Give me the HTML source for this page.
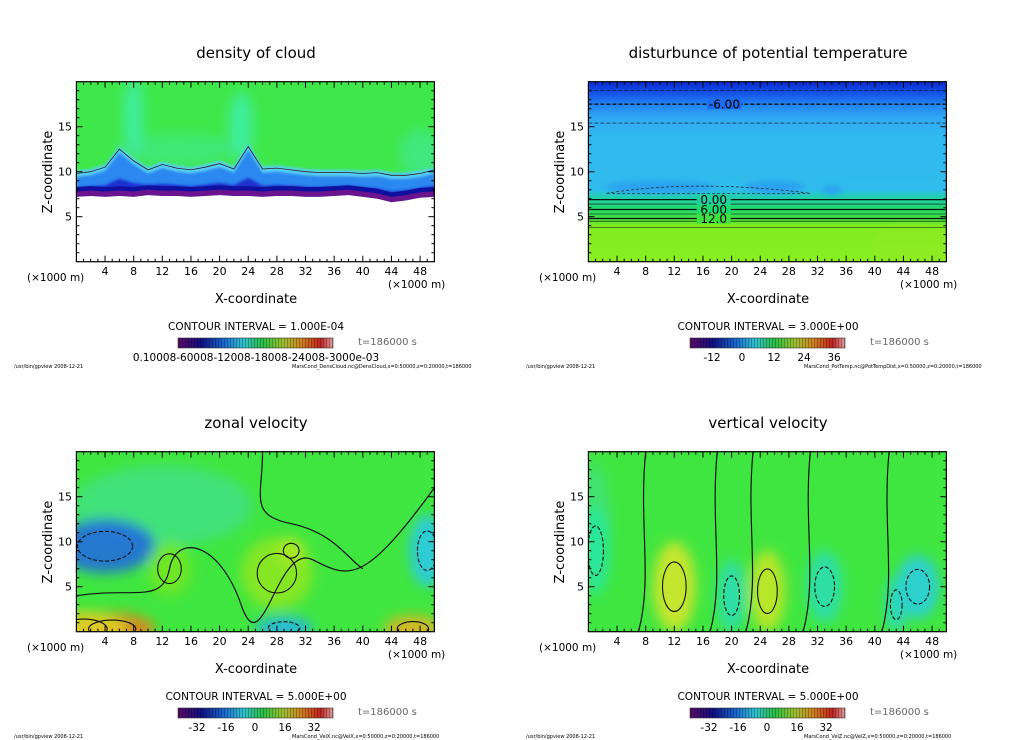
<!DOCTYPE html>
<html><head><meta charset="utf-8">
<style>
html,body{margin:0;padding:0;background:#fff;width:1024px;height:740px;overflow:hidden}
svg{display:block;font-family:"DejaVu Sans","Liberation Sans",sans-serif}
</style></head>
<body>
<svg id="fig" width="1024" height="740" viewBox="0 0 1024 740" xmlns="http://www.w3.org/2000/svg">
<defs>
<linearGradient id="cbar" x1="0" x2="1" y1="0" y2="0">
<stop offset="0" stop-color="#5a0a6a"/><stop offset="0.15" stop-color="#101080"/><stop offset="0.3" stop-color="#1a6ad0"/>
<stop offset="0.42" stop-color="#30c0d0"/><stop offset="0.55" stop-color="#2ac040"/><stop offset="0.68" stop-color="#a0c030"/>
<stop offset="0.8" stop-color="#d08020"/><stop offset="0.92" stop-color="#c02020"/><stop offset="1" stop-color="#e0a0a0"/>
</linearGradient>
<pattern id="stripes" width="3" height="10" patternUnits="userSpaceOnUse"><rect x="2" width="1" height="10" fill="rgba(0,0,0,0.25)"/></pattern>
<filter id="blur6"><feGaussianBlur stdDeviation="6"/></filter>
<filter id="blur3"><feGaussianBlur stdDeviation="3"/></filter>
<filter id="blur1"><feGaussianBlur stdDeviation="1.2"/></filter>
<linearGradient id="g-pt" x1="0" x2="0" y1="0" y2="1">
<stop offset="0" stop-color="#0a2ad0"/><stop offset="0.06" stop-color="#1450e8"/><stop offset="0.12" stop-color="#1e80f0"/>
<stop offset="0.2" stop-color="#30a8f4"/><stop offset="0.3" stop-color="#30b8f0"/><stop offset="0.6" stop-color="#30bcec"/>
<stop offset="0.64" stop-color="#20d0b0"/><stop offset="0.7" stop-color="#20d870"/><stop offset="0.76" stop-color="#40e040"/>
<stop offset="0.8" stop-color="#80ec20"/><stop offset="1" stop-color="#88ee20"/>
</linearGradient>
</defs>
</svg>
<script>
// ---- data ----
const xTicks = [4,8,12,16,20,24,28,32,36,40,44,48];
const zTicks = [5,10,15];
const titles = ["density of cloud","disturbunce of potential temperature","zonal velocity","vertical velocity"];
const intervals = ["1.000E-04","3.000E+00","5.000E+00","5.000E+00"];
const footers = ["MarsCond_DensCloud.nc@DensCloud,x=0:50000,z=0:20000,t=186000","MarsCond_PotTemp.nc@PotTempDist,x=0:50000,z=0:20000,t=186000","MarsCond_VelX.nc@VelX,x=0:50000,z=0:20000,t=186000","MarsCond_VelZ.nc@VelZ,x=0:50000,z=0:20000,t=186000"];
const cbarLabels = [["0.1000E-03 ... 0.3000E-03"],["-12","0","12","24","36"],["-32","-16","0","16","32"],["-32","-16","0","16","32"]];
// cloud panel profiles (z in km at x = 0,2,...,50)
const cloudX    = [0,2,4,6,8,10,12,14,16,18,20,22,24,26,28,30,32,34,36,38,40,42,44,46,48,50];
const cloudBase = [7.2,7.3,7.2,7.3,7.2,7.4,7.3,7.3,7.2,7.3,7.4,7.3,7.3,7.2,7.3,7.3,7.2,7.2,7.3,7.4,7.2,7.0,6.6,6.8,7.1,7.2];
const cloudTop  = [9.8,10.0,10.5,12.5,11.2,10.2,10.8,10.4,10.2,10.5,10.9,10.3,12.8,10.3,10.4,10.2,10.0,9.9,9.9,9.9,9.8,9.9,9.6,9.6,9.8,10.2];
// potential temperature contour levels (z km)
const ptLevels = [19.0,17.5,15.4,6.9,6.4,5.8,5.3,4.8,4.5,3.8];
const ptLabels = ["-6.00","0.00","6.00","12.0"];
// zonal velocity anomalies: x, z (km), rx, rz (km), value (m/s)
const uBlobX = [4,5,1,47,29,28,13,30,49];
const uBlobZ = [9.5,0.3,0.3,0.3,0.4,6.5,7,9,9];
const uBlobRX= [7,6,6,4,4,5,3,2,2.5];
const uBlobRZ= [3,1.8,2,1.5,1.3,4,3,1.5,4];
const uBlobV = [-20,24,14,18,-12,7,5,9,-10];
// vertical velocity anomalies
const wBlobX = [12,25,20,33,46,43,1];
const wBlobZ = [5,4.5,4,5,5,3,9];
const wBlobRX= [3,2.5,2,2.5,3,1.5,2];
const wBlobRZ= [5,4.5,4,4,3.5,3,5];
const wBlobV = [12,11,-5,-5,-9,-7,-3];

// ---- helpers ----
const NS="http://www.w3.org/2000/svg";
const svg=document.getElementById('fig');
function el(tag,attrs,parent){const e=document.createElementNS(NS,tag);for(const k in attrs)e.setAttribute(k,attrs[k]);(parent||svg).appendChild(e);return e;}
function xS(km){return 76.4+km*7.16;}
function zS(z){return 261.7-z*9.0;}
function valColor(v){
  const stops=[[-32,[60,20,140]],[-20,[30,100,230]],[-10,[40,200,240]],[-3,[40,230,160]],[0,[60,228,50]],[6,[130,232,30]],[12,[220,230,40]],[20,[240,160,30]],[30,[230,70,20]]];
  if(v<=stops[0][0])return 'rgb('+stops[0][1]+')';
  for(let i=1;i<stops.length;i++){if(v<=stops[i][0]){const a=stops[i-1],b=stops[i],t=(v-a[0])/(b[0]-a[0]);return 'rgb('+a[1].map((c,j)=>Math.round(c+(b[1][j]-c)*t)).join(',')+')';}}
  return 'rgb('+stops[stops.length-1][1]+')';
}

const offs=[[0,0],[512,0],[0,370],[512,370]];
offs.forEach((o,pi)=>{
  const g=el('g',{transform:`translate(${o[0]},${o[1]})`});
  
  
  const t=el('text',{x:256,y:58,'text-anchor':'middle','font-size':15,fill:'#000'},g);t.textContent=titles[pi];
  
  const clipId='clip'+pi;
  const cp=el('clipPath',{id:clipId},g);el('rect',{x:xS(0),y:zS(20),width:xS(50)-xS(0),height:zS(0)-zS(20)},cp);
  const plot=el('g',{'clip-path':`url(#${clipId})`},g);
  
  const W=xS(50)-xS(0),H=zS(0)-zS(20);
  if(pi===0){
    el('rect',{x:xS(0),y:zS(20),width:W,height:H,fill:'#3ee84a'},plot);
    const bl=el('g',{filter:'url(#blur6)'},plot);
    el('ellipse',{cx:xS(8),cy:zS(16),rx:10,ry:40,fill:'#40f0c0',opacity:0.7},bl);
    el('ellipse',{cx:xS(23),cy:zS(15),rx:12,ry:35,fill:'#40f0c0',opacity:0.7},bl);
    el('ellipse',{cx:xS(48),cy:zS(12),rx:20,ry:25,fill:'#40e8a0',opacity:0.6},bl);
    el('ellipse',{cx:xS(14),cy:zS(12.5),rx:60,ry:15,fill:'#40e8a0',opacity:0.5},bl);
    const band=(topF,botF,fill,f)=>{let d='M';cloudX.forEach((x,i)=>{d+=(i?' L':'')+xS(x)+' '+zS(topF(i));});for(let i=cloudX.length-1;i>=0;i--)d+=' L'+xS(cloudX[i])+' '+zS(botF(i));el('path',{d:d+' Z',fill,filter:f||''},plot);};
    band(i=>cloudTop[i]+0.3,i=>cloudBase[i],'#58d0f4','url(#blur1)');
    band(i=>cloudTop[i]-0.4,i=>cloudBase[i],'#2c88f0','url(#blur1)');
    band(i=>(cloudTop[i]+cloudBase[i]*2)/3+0.2,i=>cloudBase[i],'#1a30d0','url(#blur1)');
    band(i=>cloudBase[i]+1.1,i=>cloudBase[i],'#1010a0');
    band(i=>cloudBase[i]+0.6,i=>cloudBase[i],'#6a1490');
    band(i=>cloudBase[i],i=>-1,'#ffffff');
    let d='M';cloudX.forEach((x,i)=>{d+=(i?' L':'')+xS(x)+' '+zS(cloudTop[i]);});
    el('path',{d,fill:'none',stroke:'#222','stroke-width':0.8},plot);
  } else if(pi===1){
    el('rect',{x:xS(0),y:zS(20),width:W,height:H,fill:'url(#g-pt)'},plot);
    const bl=el('g',{filter:'url(#blur3)'},plot);
    el('ellipse',{cx:xS(10),cy:zS(8.3),rx:55,ry:6,fill:'#2aa0f0'},bl);
    el('ellipse',{cx:xS(26),cy:zS(8.3),rx:30,ry:6,fill:'#2aa0f0'},bl);
    el('ellipse',{cx:xS(34),cy:zS(8.0),rx:10,ry:4,fill:'#2aa0f0'},bl);
    el('ellipse',{cx:xS(45),cy:zS(2),rx:40,ry:20,fill:'#90ec20',opacity:0.5},bl);
    ptLevels.forEach((z,i)=>{
      const dashed=i<3;const bold=(i===1||i===3||i===5||i===7);
      const l=el('line',{x1:xS(0),x2:xS(50),y1:zS(z),y2:zS(z),stroke:'#111','stroke-width':bold?1.3:0.6,'stroke-dasharray':dashed?'4,2':''},plot);
      
    });
    el('path',{d:`M${xS(2.5)} ${zS(7.6)} Q${xS(15)} ${zS(9.2)} ${xS(31)} ${zS(7.6)} Z`,fill:'none',stroke:'#222','stroke-width':0.7,'stroke-dasharray':'3,2'},plot);
    const lbl=[[17.5,ptLabels[0],'#1e6aec'],[6.9,ptLabels[1],'#20d0a0'],[5.8,ptLabels[2],'#20d870'],[4.8,ptLabels[3],'#40e040']];
    lbl.forEach((p,i)=>{const x=i===0?xS(19):xS(17.5);el('rect',{x:x-17,y:zS(p[0])-5,width:34,height:10,fill:p[2]},plot);
      const tt=el('text',{x,y:zS(p[0])+4.5,'text-anchor':'middle','font-size':12,fill:'#000'},plot);tt.textContent=p[1];});
  } else {
    const bx=pi===2?uBlobX:wBlobX,bz=pi===2?uBlobZ:wBlobZ,brx=pi===2?uBlobRX:wBlobRX,brz=pi===2?uBlobRZ:wBlobRZ,bv=pi===2?uBlobV:wBlobV;
    el('rect',{x:xS(0),y:zS(20),width:W,height:H,fill:'#40e640'},plot);
    const bl=el('g',{filter:'url(#blur6)'},plot);
    if(pi===2){el('ellipse',{cx:xS(12),cy:zS(14),rx:90,ry:40,fill:'#40e0a0',opacity:0.6},bl);}
    else {el('ellipse',{cx:xS(1),cy:zS(12),rx:15,ry:60,fill:'#40e0a0',opacity:0.5},bl);}
    bx.forEach((x,i)=>{
      const c=el('ellipse',{cx:xS(x),cy:zS(bz[i]),rx:brx[i]*7.16,ry:brz[i]*9,fill:valColor(bv[i]),opacity:0.85},bl);
      
      el('ellipse',{cx:xS(x),cy:zS(bz[i]),rx:brx[i]*7.16*0.55,ry:brz[i]*9*0.55,fill:'none',stroke:'#111','stroke-width':1.1,'stroke-dasharray':bv[i]<0?'4,2':''},plot);
    });
    if(pi===2){
      el('path',{d:`M${xS(0)} ${zS(4)} C${xS(8)} ${zS(5)} ${xS(12)} ${zS(3)} ${xS(13)} ${zS(7)} S${xS(20)} ${zS(10)} ${xS(23)} ${zS(3)} S${xS(28)} ${zS(10)} ${xS(33)} ${zS(8)} S${xS(40)} ${zS(5)} ${xS(50)} ${zS(16)}`,fill:'none',stroke:'#111','stroke-width':1.2},plot);
      el('path',{d:`M${xS(26)} ${zS(20)} C${xS(26)} ${zS(15)} ${xS(24)} ${zS(13)} ${xS(30)} ${zS(12)} S${xS(38)} ${zS(8)} ${xS(40)} ${zS(7)}`,fill:'none',stroke:'#111','stroke-width':1.2},plot);
    } else {
      [7,17,22,30,41].forEach(x=>{el('path',{d:`M${xS(x+1)} ${zS(20)} C${xS(x)} ${zS(12)} ${xS(x+2)} ${zS(6)} ${xS(x)} ${zS(0)}`,fill:'none',stroke:'#111','stroke-width':1.2},plot);});
    }
  }
  const fr=el('rect',{x:xS(0),y:zS(20),width:W,height:H,fill:'none',stroke:'#000','stroke-width':1.2},g);
  
  for(let k=1;k<50;k++){const len=k%4===0?6:3;
    el('line',{x1:xS(k),x2:xS(k),y1:zS(0),y2:zS(0)-len,stroke:'#000','stroke-width':1},g);
    el('line',{x1:xS(k),x2:xS(k),y1:zS(20),y2:zS(20)+len,stroke:'#000','stroke-width':1},g);}
  for(let k=1;k<20;k++){const len=k%5===0?6:3;
    el('line',{x1:xS(0),x2:xS(0)+len,y1:zS(k),y2:zS(k),stroke:'#000','stroke-width':1},g);
    el('line',{x1:xS(50),x2:xS(50)-len,y1:zS(k),y2:zS(k),stroke:'#000','stroke-width':1},g);}
  xTicks.forEach(v=>{const tt=el('text',{x:xS(v),y:275,'text-anchor':'middle','font-size':11},g);tt.textContent=v;
    });
  zTicks.forEach(v=>{const tt=el('text',{x:72,y:zS(v)+4,'text-anchor':'end','font-size':11},g);tt.textContent=v;
    });
  let tt=el('text',{x:27,y:281,'font-size':10.5},g);tt.textContent='(×1000 m)';
  
  tt=el('text',{x:388,y:288,'font-size':10.5},g);tt.textContent='(×1000 m)';
  
  tt=el('text',{x:256,y:303,'text-anchor':'middle','font-size':13},g);tt.textContent='X-coordinate';
  
  tt=el('text',{x:0,y:0,'text-anchor':'middle','font-size':13,transform:'translate(52,172) rotate(-90)'},g);tt.textContent='Z-coordinate';
  
  tt=el('text',{x:256,y:330,'text-anchor':'middle','font-size':10.5},g);tt.textContent='CONTOUR INTERVAL = '+intervals[pi];
  
  const cb=el('rect',{x:178,y:338,width:155,height:10,fill:'url(#cbar)',stroke:'#333','stroke-width':0.6},g);
  
  el('rect',{x:178,y:338,width:155,height:10,fill:'url(#stripes)'},g);
  tt=el('text',{x:358,y:345,'font-size':10,fill:'#666'},g);tt.textContent='t=186000 s';
  
  if(pi===0){tt=el('text',{x:256,y:361,'text-anchor':'middle','font-size':10.5},g);tt.textContent='0.10008-60008-12008-18008-24008-3000e-03';
    }
  else{const L=cbarLabels[pi];const pos=pi===1?[200,230,262,292,322]:[197,226,255,285,314];
    L.forEach((s,i)=>{const q=el('text',{x:pos[i],y:361,'text-anchor':'middle','font-size':10.5},g);q.textContent=s;
      });}
  tt=el('text',{x:14,y:368,'font-size':5},g);tt.textContent='/usr/bin/gpview   2008-12-21';
  
  tt=el('text',{x:292,y:368,'font-size':5},g);tt.textContent=footers[pi];
  
});
</script>
</body></html>
